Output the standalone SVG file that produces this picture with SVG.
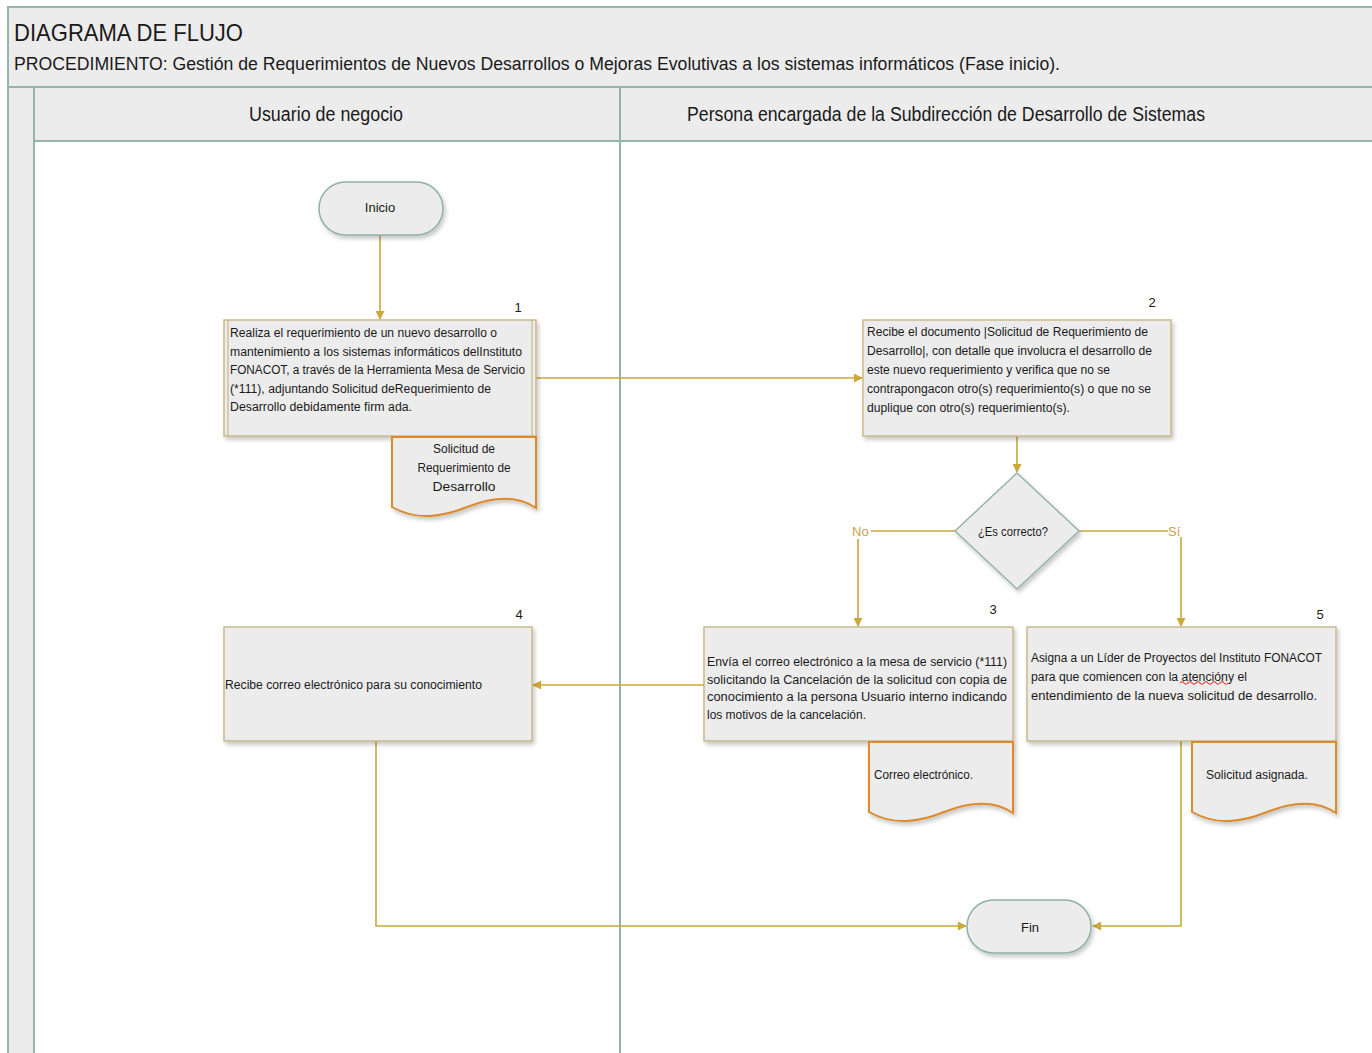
<svg xmlns="http://www.w3.org/2000/svg" width="1372" height="1053" viewBox="0 0 1372 1053">
<defs>
<style>
.t{font-family:"Liberation Sans Narrow","Liberation Sans",Arial,sans-serif;fill:#1a1a1a;}
.hd{fill:#ececec;stroke:#98b4a8;stroke-width:2;}
.ln{stroke:#98b4a8;stroke-width:2;fill:none;}
.box{fill:#ececec;stroke:#c9b98a;stroke-width:1.5;filter:url(#sh);}
.pill{fill:#ececec;stroke:#8fb0a4;stroke-width:1.5;filter:url(#sh);}
.doc{fill:#ececec;stroke:#dd8a2a;stroke-width:2;filter:url(#sh);}
.c{stroke:#cba83a;stroke-width:1.6;fill:none;}
.ca{stroke:#cba83a;stroke-width:1.6;fill:none;marker-end:url(#ah);}
.lbl{font-family:"Liberation Sans Narrow","Liberation Sans",Arial,sans-serif;fill:#c9a24e;font-size:13px;}
</style>
<marker id="ah" viewBox="0 0 10 10" refX="9" refY="5" markerWidth="10" markerHeight="9" orient="auto" markerUnits="userSpaceOnUse">
<path d="M0,0 L10,5 L0,10 Z" fill="#cba83a"/>
</marker>
<filter id="sh" x="-10%" y="-10%" width="125%" height="130%">
<feDropShadow dx="2" dy="3" stdDeviation="2" flood-color="#000" flood-opacity="0.22"/>
</filter>
<path id="docshape" d="M0,0 H144 V71 C125,58 100,60 75,70 C50,80 25,84 0,70 Z"/>
</defs>
<rect x="0" y="0" width="1372" height="1053" fill="#ffffff"/>

<g id="frame">
<rect class="hd" x="8" y="7" width="1370" height="80"/>
<rect class="hd" x="8" y="87" width="1370" height="54"/>
<rect class="hd" x="8" y="87" width="26" height="975"/>
<line class="ln" x1="620" y1="87" x2="620" y2="1053"/>
<line class="ln" x1="34" y1="141" x2="34" y2="1053"/>
<text class="t" x="14" y="41" font-size="24" textLength="229" lengthAdjust="spacingAndGlyphs">DIAGRAMA DE FLUJO</text>
<text class="t" x="14" y="70" font-size="18" textLength="1046" lengthAdjust="spacingAndGlyphs">PROCEDIMIENTO: Gestión de Requerimientos de Nuevos Desarrollos o Mejoras Evolutivas a los sistemas informáticos (Fase inicio).</text>
<text class="t" x="249" y="121" font-size="20" textLength="154" lengthAdjust="spacingAndGlyphs">Usuario de negocio</text>
<text class="t" x="687" y="121" font-size="20" textLength="518" lengthAdjust="spacingAndGlyphs">Persona encargada de la Subdirección de Desarrollo de Sistemas</text>
</g>

<g id="connectors">
<line class="ca" x1="380" y1="235" x2="380" y2="319"/>
<line class="ca" x1="536" y1="378" x2="862" y2="378"/>
<line class="ca" x1="1017" y1="436" x2="1017" y2="472"/>
<line class="c" x1="955" y1="531" x2="871" y2="531"/>
<line class="ca" x1="858" y1="539" x2="858" y2="626"/>
<line class="c" x1="1079" y1="531" x2="1168" y2="531"/>
<line class="ca" x1="1181" y1="537" x2="1181" y2="626"/>
<line class="ca" x1="704" y1="685" x2="533" y2="685"/>
<polyline class="ca" points="376,741 376,926 966,926"/>
<polyline class="ca" points="1181,741 1181,926 1093,926"/>
<text class="lbl" x="852" y="536">No</text>
<text class="lbl" x="1168" y="536">Sí</text>
</g>

<g id="inicio">
<rect class="pill" x="319" y="182" width="124" height="53" rx="26.5"/>
<text class="t" x="380" y="212" font-size="13" text-anchor="middle">Inicio</text>
</g>

<g id="node1">
<rect class="box" x="224" y="320" width="312" height="116"/>
<line x1="228" y1="320" x2="228" y2="436" stroke="#c9b98a" stroke-width="1.2"/>
<line x1="532" y1="320" x2="532" y2="436" stroke="#c9b98a" stroke-width="1.2"/>
<text class="t" x="518" y="312" font-size="13" text-anchor="middle">1</text>
<g class="t" font-size="12.5">
<text x="230" y="337" textLength="267" lengthAdjust="spacingAndGlyphs">Realiza  el requerimiento de un nuevo desarrollo o</text>
<text x="230" y="355.5" textLength="292" lengthAdjust="spacingAndGlyphs">mantenimiento a los sistemas informáticos delInstituto</text>
<text x="230" y="374" textLength="295" lengthAdjust="spacingAndGlyphs">FONACOT, a través de la Herramienta Mesa de Servicio</text>
<text x="230" y="392.5" textLength="261" lengthAdjust="spacingAndGlyphs">(*111), adjuntando Solicitud deRequerimiento de</text>
<text x="230" y="411" textLength="182" lengthAdjust="spacingAndGlyphs">Desarrollo debidamente firm ada.</text>
</g>
</g>

<g id="doc1">
<use href="#docshape" class="doc" x="392" y="437"/>
<g class="t" font-size="13" text-anchor="middle">
<text x="464" y="453" textLength="62" lengthAdjust="spacingAndGlyphs">Solicitud de</text>
<text x="464" y="472" textLength="93" lengthAdjust="spacingAndGlyphs">Requerimiento de</text>
<text x="464" y="491" textLength="63" lengthAdjust="spacingAndGlyphs">Desarrollo</text>
</g>
</g>

<g id="node2">
<rect class="box" x="863" y="320" width="308" height="116"/>
<text class="t" x="1152" y="307" font-size="13" text-anchor="middle">2</text>
<g class="t" font-size="12.5">
<text x="867" y="336" textLength="281" lengthAdjust="spacingAndGlyphs">Recibe el documento |Solicitud de Requerimiento de</text>
<text x="867" y="355" textLength="285" lengthAdjust="spacingAndGlyphs">Desarrollo|, con detalle que involucra el desarrollo de</text>
<text x="867" y="374" textLength="243" lengthAdjust="spacingAndGlyphs">este nuevo requerimiento y verifica que no se</text>
<text x="867" y="393" textLength="284" lengthAdjust="spacingAndGlyphs">contrapongacon otro(s) requerimiento(s) o que no se</text>
<text x="867" y="412" textLength="203" lengthAdjust="spacingAndGlyphs">duplique con otro(s) requerimiento(s).</text>
</g>
</g>

<g id="decision">
<polygon points="1017,473 1079,531 1017,589 955,531" fill="#ececec" stroke="#98b4a8" stroke-width="1.5" filter="url(#sh)"/>
<text class="t" x="1013" y="536" font-size="12.5" text-anchor="middle" textLength="70" lengthAdjust="spacingAndGlyphs">¿Es correcto?</text>
</g>

<g id="node3">
<rect class="box" x="704" y="627" width="309" height="114"/>
<text class="t" x="993" y="614" font-size="13" text-anchor="middle">3</text>
<g class="t" font-size="12.5">
<text x="707" y="666" textLength="300" lengthAdjust="spacingAndGlyphs">Envía el correo electrónico a la mesa de servicio (*111)</text>
<text x="707" y="683.5" textLength="300" lengthAdjust="spacingAndGlyphs">solicitando la Cancelación de la solicitud con copia de</text>
<text x="707" y="701" textLength="300" lengthAdjust="spacingAndGlyphs">conocimiento a la persona Usuario interno indicando</text>
<text x="707" y="718.5" textLength="159" lengthAdjust="spacingAndGlyphs">los motivos de la cancelación.</text>
</g>
</g>

<g id="doc3">
<use href="#docshape" class="doc" x="869" y="742"/>
<text class="t" x="874" y="779" font-size="12.5" textLength="99" lengthAdjust="spacingAndGlyphs">Correo electrónico.</text>
</g>

<g id="node5">
<rect class="box" x="1027" y="627" width="309" height="114"/>
<text class="t" x="1320" y="619" font-size="13" text-anchor="middle">5</text>
<g class="t" font-size="12.5">
<text x="1031" y="661.5" textLength="291" lengthAdjust="spacingAndGlyphs">Asigna a un Líder de Proyectos del Instituto FONACOT</text>
<text x="1031" y="680.5" textLength="216" lengthAdjust="spacingAndGlyphs">para que comiencen con la atencióny el</text>
<text x="1031" y="700" textLength="286" lengthAdjust="spacingAndGlyphs">entendimiento de la nueva solicitud de desarrollo.</text>
</g>
<path d="M1180,683 q2,-2.5 4,0 t4,0 t4,0 t4,0 t4,0 t4,0 t4,0 t4,0 t4,0 t4,0 t4,0 t4,0" fill="none" stroke="#e03030" stroke-width="1.2"/>
</g>

<g id="doc5">
<use href="#docshape" class="doc" x="1192" y="742"/>
<text class="t" x="1206" y="779" font-size="12.5" textLength="102" lengthAdjust="spacingAndGlyphs">Solicitud asignada.</text>
</g>

<g id="node4">
<rect class="box" x="224" y="627" width="308" height="114"/>
<text class="t" x="519" y="619" font-size="13" text-anchor="middle">4</text>
<text class="t" x="225" y="689" font-size="12.5" textLength="257" lengthAdjust="spacingAndGlyphs">Recibe correo electrónico para su conocimiento</text>
</g>

<g id="fin">
<rect class="pill" x="967" y="900" width="124" height="53" rx="26.5"/>
<text class="t" x="1030" y="932" font-size="13" text-anchor="middle">Fin</text>
</g>
</svg>
